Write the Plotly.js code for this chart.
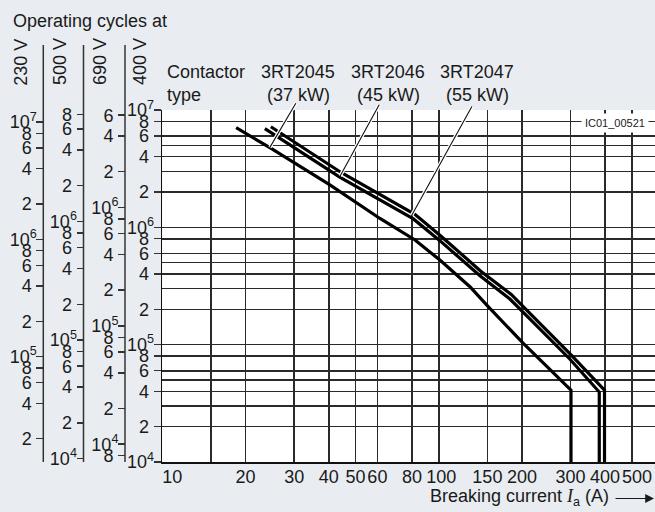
<!DOCTYPE html>
<html><head><meta charset="utf-8">
<script src="https://cdn.plot.ly/plotly-3.0.1.min.js"></script>
<style>html,body{margin:0;padding:0;background:#e9edf1}</style>
</head><body><div id="chart" style="width:655px;height:512px"></div>
<script>
// ---------- data ----------
const currentTicks = [10,15,20,30,40,50,60,80,100,150,200,300,400,500];
const currentTickText = ["\u00a0\u00a0\u00a0\u00a010","","20","30","40","50","60","80","\u00a0100","150","200","300","400","\u00a0\u00a0500"];

const c2045_I = [18.5, 24.5, 40.4, 61.3, 82.1, 101, 129.7, 149, 202, 298, 301, 301];
const c2045_N = [7.06e6, 4.77e6, 2.3e6, 1.19e6, 7.8e5, 5.26e5, 3.12e5, 2.18e5, 1.03e5, 4.24e4, 4.1e4, 1e4];
const c2046_I = [23.5, 44, 81, 101, 141, 181, 214, 298, 381, 381];
const c2046_N = [6.95e6, 2.67e6, 1.18e6, 7.7e5, 3.87e5, 2.45e5, 1.65e5, 7.55e4, 3.95e4, 1e4];
const c2047_I = [24.7, 44.5, 82, 102, 142, 183, 216, 300, 398, 398];
const c2047_N = [7.2e6, 2.92e6, 1.29e6, 8.4e5, 4.23e5, 2.68e5, 1.8e5, 8.25e4, 4.1e4, 1e4];

const contactorNames = ["3RT2045","3RT2046","3RT2047"];
const contactorPower = ["(37 kW)","(45 kW)","(55 kW)"];
// leader line endpoints on curves (current A, cycles)
const leaderI = [24.5, 44, 79.9];
const leaderN = [4.8e6, 2.74e6, 1.27e6];

const ticks400 = [1e7,8e6,6e6,4e6,2e6,1e6,8e5,6e5,4e5,2e5,1e5,8e4,6e4,4e4,2e4,1e4];
const grid400minor = [5e6,3e6,5e5,3e5,5e4,3e4];
const ticks230 = [1e7,8e6,6e6,4e6,2e6,1e6,8e5,6e5,4e5,2e5,1e5,8e4,6e4,4e4,2e4];
const ticks500 = [8e6,6e6,4e6,2e6,1e6,8e5,6e5,4e5,2e5,1e5,8e4,6e4,4e4,2e4,1e4];
const ticks690 = [6e6,4e6,2e6,1e6,8e5,6e5,4e5,2e5,1e5,8e4,6e4,4e4,2e4,1e4,8e3];
const voltageLabels = ["230 V","500 V","690 V","400 V"];

// ---------- helpers ----------
const W = 655, H = 512, MT = 110, MB = 50;
const PH = H - MT - MB;
const X = px => px / W;
const Y = py => (H - MB - py) / PH;
function lab(v){
  const e = Math.floor(Math.log10(v) + 1e-9);
  const m = Math.round(v / Math.pow(10, e));
  return m === 1 ? '10<sup>' + e + '</sup>' : String(m) + '\u00a0';
}
const FONT = 'Liberation Sans, Arial, sans-serif';
const FS = 18;
const TXT = '#1a1a1a';
const GRID = '#2a2a2a';

function sideAxis(pos, range, vals){
  return {overlaying:'y', anchor:'free', position:X(pos), side:'left', type:'log',
    range:range, tickmode:'array', tickvals:vals, ticktext:vals.map(lab),
    ticks:'outside', ticklen:7, tickwidth:1.5, tickcolor:'#333', tickangle:0,
    ticklabelstandoff:-4,
    showgrid:false, zeroline:false, showline:false, fixedrange:true,
    tickfont:{size:FS, color:TXT, family:FONT}};
}

const curveLine = {color:'#000', width:3.2};
const traces = [
  {x:c2045_I, y:c2045_N, mode:'lines', line:curveLine, name:contactorNames[0]},
  {x:c2046_I, y:c2046_N, mode:'lines', line:curveLine, name:contactorNames[1]},
  {x:c2047_I, y:c2047_N, mode:'lines', line:curveLine, name:contactorNames[2]},
  {x:[100], y:[1e5], yaxis:'y2', mode:'markers', marker:{opacity:0}, hoverinfo:'skip'},
  {x:[100], y:[1e5], yaxis:'y3', mode:'markers', marker:{opacity:0}, hoverinfo:'skip'},
  {x:[100], y:[1e5], yaxis:'y4', mode:'markers', marker:{opacity:0}, hoverinfo:'skip'}
];

const annotations = [];
function txt(text, px, py, opts){
  annotations.push(Object.assign({xref:'paper', yref:'paper', x:X(px), y:Y(py), text:text,
    showarrow:false, xanchor:'center', yanchor:'middle', font:{size:FS, color:TXT, family:FONT}}, opts||{}));
}
txt('Operating cycles at', 11, 21, {xanchor:'left'});
const vx = [20.7, 60, 100, 140];
voltageLabels.forEach((t,i)=> txt(t, vx[i], 62, {textangle:-90}));
txt('Contactor', 165, 72, {xanchor:'left'});
txt('type', 165, 95, {xanchor:'left'});
const cx = [297.5, 387.5, 476.5];
contactorNames.forEach((t,i)=> txt(t, cx[i], 72));
contactorPower.forEach((t,i)=> txt(t, cx[i]+1, 95));
txt('IC01_00521', 615, 122.5, {font:{size:11, color:TXT, family:FONT}, bgcolor:'#ffffff', borderpad:3});
txt('Breaking current <span style="font-family:Liberation Serif,serif"><i>I</i></span><sub>a</sub> (A)', 611, 497, {xanchor:'right'});
annotations.push({xref:'paper', yref:'paper', x:X(654), y:Y(498.5), ax:-40, ay:0, text:'',
  showarrow:true, arrowhead:2, arrowsize:1.6, arrowwidth:1.1, arrowcolor:TXT});

// leaders
const tails = [[296.7,101.7],[380,103.3],[472.7,105]];
const xs = v => 162.3 + (Math.log10(v) - 1) * 276.4;
const ys = v => 110 + (7 - Math.log10(v)) * 117.3;
[[ '#ffffff', 3.6 ], ['#111111', 1.1]].forEach(([col,w])=>{
  leaderI.forEach((iv,k)=>{
    annotations.push({xref:'x', yref:'y', x:Math.log10(iv), y:Math.log10(leaderN[k]),
      axref:'pixel', ayref:'pixel', ax:tails[k][0]-xs(iv), ay:tails[k][1]-ys(leaderN[k]),
      text:'', showarrow:true, arrowhead:0, arrowwidth:w, arrowcolor:col});
  });
});

const shapes = [43.3, 83.5, 125].map(px=>({type:'line', xref:'paper', yref:'paper',
  x0:X(px), x1:X(px), y0:0, y1:Y(45), line:{color:'#333', width:1.5}}));

const layout = {
  width:W, height:H, margin:{l:0, r:0, t:MT, b:MB, pad:0},
  paper_bgcolor:'#e9edf1', plot_bgcolor:'#ffffff', showlegend:false,
  font:{family:FONT, size:FS, color:TXT},
  xaxis:{type:'log', domain:[X(162.3),1], range:[1, 1 + (W-162.3)/276.4], anchor:'y',
    tickmode:'array', tickvals:currentTicks, ticktext:currentTickText, ticks:'', tickangle:0,
    ticklabelstandoff:-2,
    showgrid:true, gridcolor:GRID, gridwidth:1.6, showline:true, linecolor:'#111', linewidth:1.6,
    zeroline:false, fixedrange:true, tickfont:{size:FS, color:TXT, family:FONT}},
  yaxis:{type:'log', domain:[0,1], range:[4,7], anchor:'x',
    tickmode:'array', tickvals:ticks400, ticktext:ticks400.map(lab), tickangle:0,
    ticks:'outside', ticklen:7, tickwidth:1.5, tickcolor:'#333', ticklabelstandoff:-4,
    showgrid:true, gridcolor:GRID, gridwidth:1.6, showline:true, linecolor:'#111', linewidth:1.6,
    minor:{tickmode:'array', tickvals:grid400minor, showgrid:true, gridcolor:GRID, gridwidth:1.6, ticks:''},
    zeroline:false, fixedrange:true, tickfont:{size:FS, color:TXT, family:FONT}},
  yaxis2: sideAxis(43.3, [4.102, 7.102], ticks230),
  yaxis3: sideAxis(83.5, [3.97, 6.94], ticks500),
  yaxis4: sideAxis(125, [3.85, 6.822], ticks690),
  annotations: annotations,
  shapes: shapes
};

Plotly.newPlot('chart', traces, layout, {staticPlot:true, displayModeBar:false});
</script></body></html>
